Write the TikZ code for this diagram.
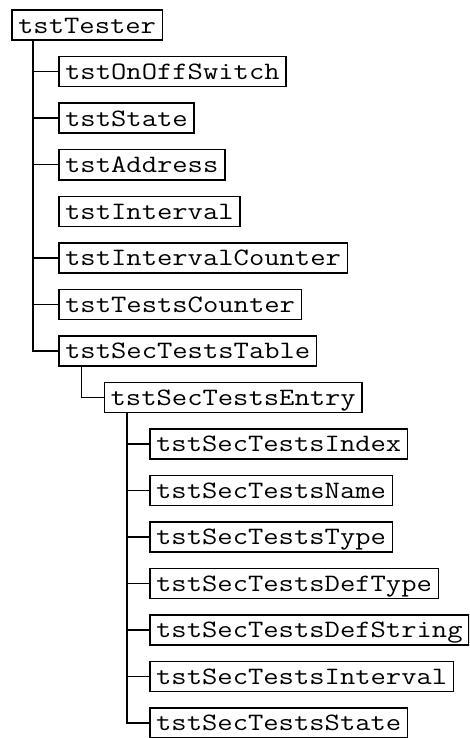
\documentclass[tikz,border=0pt]{standalone}
\usepackage{fontspec}
\newfontfamily\boxfont[FakeStretch=1.19]{Latin Modern Mono}
\begin{document}
\begin{tikzpicture}[x=1pt,y=-1pt,
  item/.style={draw, line width=1.5pt, anchor=north west, inner xsep=6.4pt,
    inner ysep=0pt, minimum height=30pt, text height=20pt, text depth=4pt,
    font=\boxfont\fontsize{25}{25}\selectfont},
  link/.style={line width=1.5pt}]
\useasboundingbox (0,0) rectangle (469,738);
\clip (0,0) rectangle (469,738);

% root object
\node[item] (root) at (11,9.5) {tstTester};

% first level
\node[item] (t1) at (58,56)    {tstOnOffSwitch};
\node[item] (t2) at (58,102.5) {tstState};
\node[item] (t3) at (58,149)   {tstAddress};
\node[item] (t4) at (58,195.5) {tstInterval};
\node[item] (t5) at (58,242)   {tstIntervalCounter};
\node[item] (t6) at (58,288.5) {tstTestsCounter};
\node[item] (t7) at (58,335)   {tstSecTestsTable};

% table entry
\node[item] (e) at (103.5,381.5) {tstSecTestsEntry};

% entry columns
\node[item] (s1) at (149,428)   {tstSecTestsIndex};
\node[item] (s2) at (149,474.5) {tstSecTestsName};
\node[item] (s3) at (149,521)   {tstSecTestsType};
\node[item] (s4) at (149,567.5) {tstSecTestsDefType};
\node[item] (s5) at (149,614)   {tstSecTestsDefString};
\node[item] (s6) at (149,660.5) {tstSecTestsInterval};
\node[item] (s7) at (149,707)   {tstSecTestsState};

% tree trunks
\coordinate (k1) at ([xshift=22pt]root.south west);
\coordinate (k2) at ([xshift=23.5pt]t7.south west);
\coordinate (k3) at ([xshift=23.5pt]e.south west);

\draw[link] (k1) |- (t7.west);
\foreach \n in {t1,t2,t3,t5,t6} \draw[link] (k1 |- \n.west) -- (\n.west);

\draw[link] (k2) |- (e.west);

\draw[link] (k3) |- (s7.west);
\foreach \n in {s1,s2,s3,s4,s5,s6} \draw[link] (k3 |- \n.west) -- (\n.west);
\end{tikzpicture}
\end{document}
